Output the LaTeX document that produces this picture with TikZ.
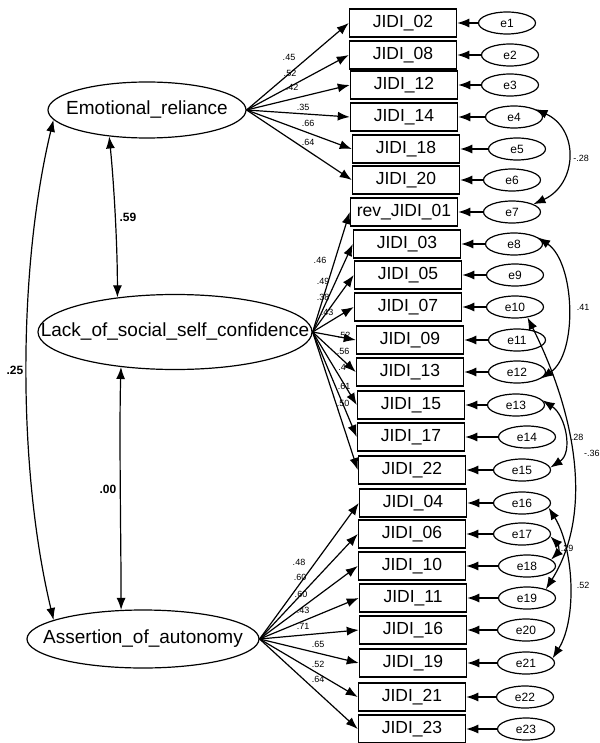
\documentclass[tikz,border=0pt]{standalone}
\usepackage{fontspec}
\setmainfont{Liberation Sans}
\usetikzlibrary{shapes.geometric, arrows.meta}

\begin{document}
\begin{tikzpicture}[
    x=1pt, y=-1pt,
    latent/.style={
        ellipse,
        draw,
        line width=1.2pt,
        inner sep=0pt,
        font=\fontsize{19}{19}\selectfont
    },
    item/.style={
        rectangle,
        draw,
        line width=1.5pt,
        minimum width=107pt,
        minimum height=28pt,
        inner sep=0pt,
        font=\fontsize{17.5}{17.5}\selectfont
    },
    err/.style={
        ellipse,
        draw,
        line width=1.2pt,
        minimum width=57pt,
        minimum height=22pt,
        inner sep=0pt,
        font=\fontsize{12}{12}\selectfont
    },
    load/.style={
        -{Latex[length=12pt,width=9pt]},
        line width=1.2pt
    },
    cov/.style={
        {Latex[length=12pt,width=9pt]}-{Latex[length=12pt,width=9pt]},
        line width=1.2pt
    },
    coef/.style={
        inner sep=0pt,
        font=\fontsize{9}{9}\selectfont
    },
    corr/.style={
        inner sep=0pt,
        font=\bfseries\fontsize{12}{12}\selectfont
    }
]

\useasboundingbox (0,0) rectangle (599,743);

% Latent factors
\node[latent, minimum width=198pt, minimum height=56pt] (er) at (147,110) {\makebox[0pt]{Emotional\_reliance}};
\node[latent, minimum width=274pt, minimum height=75pt] (lack) at (175,332) {\makebox[0pt]{Lack\_of\_social\_self\_confidence}};
\node[latent, minimum width=232pt, minimum height=58pt] (aut) at (143,639) {\makebox[0pt]{Assertion\_of\_autonomy}};

% Observed items with their error terms
\foreach \nm/\txt/\px/\qx/\py [count=\i] in {
    j02/JIDI\_02/403/507/23,
    j08/JIDI\_08/403/510/55,
    j12/JIDI\_12/404/510/85,
    j14/JIDI\_14/404/514/117,
    j18/JIDI\_18/406/517/149,
    j20/JIDI\_20/406/512/180,
    r01/rev\_JIDI\_01/404/512/212,
    j03/JIDI\_03/407/514/244,
    j05/JIDI\_05/408/515/275,
    j07/JIDI\_07/408/515/307,
    j09/JIDI\_09/410/517/340,
    j13/JIDI\_13/410/517/372,
    j15/JIDI\_15/411/516/405,
    j17/JIDI\_17/411/527/437,
    j22/JIDI\_22/412/522/470,
    j04/JIDI\_04/413/522/503,
    j06/JIDI\_06/412/522/534,
    j10/JIDI\_10/412/527/566,
    j11/JIDI\_11/413/527/598,
    j16/JIDI\_16/413/526/630,
    j19/JIDI\_19/413/526/663,
    j21/JIDI\_21/412/525/697,
    j23/JIDI\_23/412/526/729%
} {
    \node[item] (\nm) at (\px,\py) {\txt};
    \node[err] (e\i) at (\qx,\py) {e\i};
    \draw[load] (e\i.west) -- (\nm.east);
}

% Loadings
\foreach \nm in {j02, j08, j12, j14, j18, j20}
    \draw[load] (er.east) -- (\nm.west);
\foreach \nm in {r01, j03, j05, j07, j09, j13, j15, j17, j22}
    \draw[load] (lack.east) -- (\nm.west);
\foreach \nm in {j04, j06, j10, j11, j16, j19, j21, j23}
    \draw[load] (aut.east) -- (\nm.west);

\foreach \w/\lx/\ly [count=\i] in {
    .45/289/57, .52/290/73, .42/292/87, .35/303/107, .66/308/123, .64/308/142,
    .46/320/260, .49/323/281, .38/323/297, .43/327/312, .52/344/335,
    .56/343/351, .4/342/367, .61/344/386, .50/343/403,
    .48/299/562, .60/300/577, .60/301/594, .43/303/610, .71/303/626,
    .65/318/644, .52/318/664, .64/318/679%
}
    \node[coef] (w\i) at (\lx,\ly) {\w};

% Factor correlations
\draw[cov] (er.215) .. controls +(5,50) and +(0,-50) .. (lack.149);
\draw[cov] (lack.213) .. controls +(-2,60) and +(0,-60) .. (aut.127);
\draw[cov] (er.186) .. controls +(-36,150) and +(-36,-150) .. (aut.168);
\node[corr] (r1) at (128,217) {.59};
\node[corr] (r2) at (108,489) {.00};
\node[corr] (r3) at (15,370) {.25};

% Error covariances
\draw[cov] (e4.20) .. controls +(44,20) and +(44,-20) .. (e7.20);
\draw[cov] (e8.15) .. controls +(37,25) and +(37,-25) .. (e12.-15);
\draw[cov] (e10.-40) .. controls +(45,90) and +(50,-80) .. (e19.25);
\draw[cov] (e13.10) .. controls +(23,15) and +(23,-15) .. (e15.5);
\draw[cov] (e17.-5) .. controls +(8,8) and +(8,-8) .. (e18.15);
\draw[cov] (e16.-10) .. controls +(25,40) and +(25,-40) .. (e21.10);
\node[coef] (c1) at (581,158) {-.28};
\node[coef] (c2) at (583,307) {.41};
\node[coef, anchor=west] (c3) at (584,453) {-.36};
\node[coef] (c4) at (577,437) {.28};
\node[coef] (c5) at (567,548) {.29};
\node[coef] (c6) at (583,585) {.52};

\end{tikzpicture}
\end{document}
